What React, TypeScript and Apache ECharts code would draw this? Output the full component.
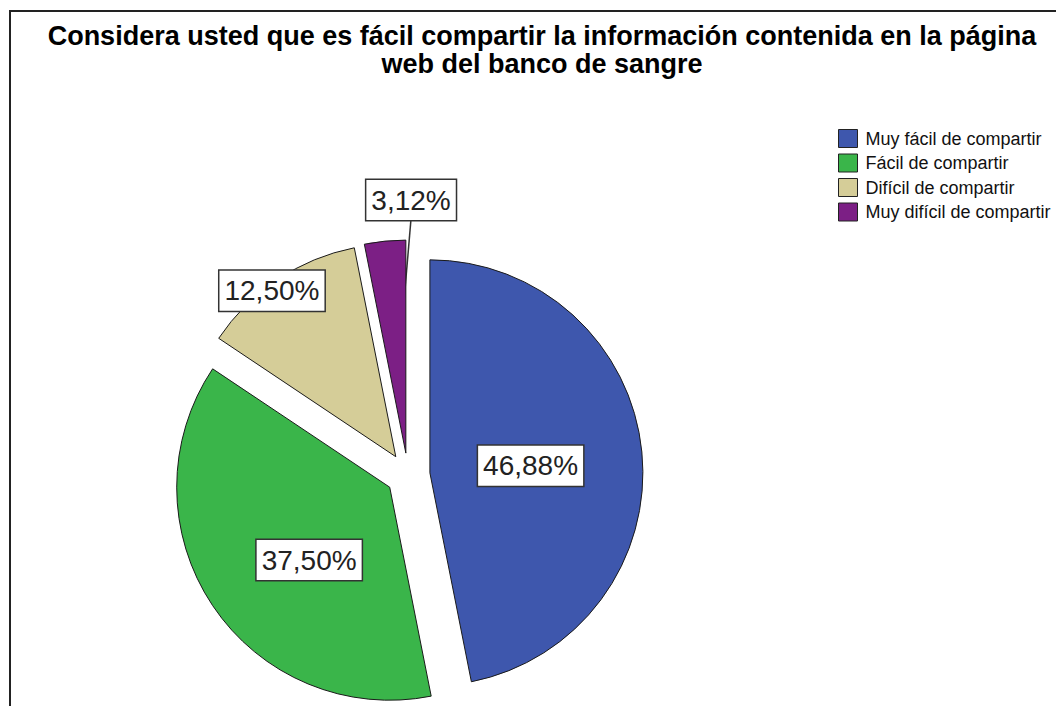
import React, { useEffect, useRef } from 'react';
import * as echarts from 'echarts';

const TITLE_LINES = [
  'Considera usted que es fácil compartir la información contenida en la página',
  'web del banco de sangre',
];
const categories = [
  'Muy fácil de compartir',
  'Fácil de compartir',
  'Difícil de compartir',
  'Muy difícil de compartir',
];
const percentages = [46.88, 37.5, 12.5, 3.12];
const colors = ['#3e57ad', '#3ab54a', '#d5cd98', '#7c1f85'];

// label placement (style): distance from slice apex as fraction of radius, angular shift in degrees
const labelFraction = [0.474, 0.51, 0.972, 1.188];
const labelShift = [1.6, -8.4, -3.0, 6.8];

const CX = 408;
const CY = 475;
const R = 213;
const OFFSET = 22;
const FONT = '"Liberation Sans", Arial, Helvetica, sans-serif';

export default function App() {
  const ref = useRef<HTMLDivElement>(null);

  useEffect(() => {
    if (!ref.current) return;
    const chart = echarts.init(ref.current, undefined, { renderer: 'svg' });
    const total = percentages.reduce((a, b) => a + b, 0);

    const geom = (i: number) => {
      let start = 0;
      for (let j = 0; j < i; j++) start += percentages[j];
      const mid = ((start + percentages[i] / 2) / total) * 360;
      const rad = (mid * Math.PI) / 180;
      const ax = CX + OFFSET * Math.sin(rad);
      const ay = CY - OFFSET * Math.cos(rad);
      return { mid, rad, ax, ay };
    };

    // one pie series per exploded slice: same angles, centre shifted along the slice's mid-angle
    const series = categories.map((_, k) => {
      const g = geom(k);
      return {
        type: 'pie',
        name: 'slice' + k,
        center: [g.ax, g.ay],
        radius: R,
        startAngle: 90,
        clockwise: true,
        avoidLabelOverlap: false,
        silent: true,
        emphasis: { disabled: true },
        label: {
          show: true,
          position: k === 3 ? 'outside' : 'inside',
          formatter: (p: any) => p.value.toFixed(2).replace('.', ',') + '%',
          fontFamily: FONT,
          fontSize: 28,
          lineHeight: 33,
          color: '#222222',
          backgroundColor: '#ffffff',
          borderColor: '#333333',
          borderWidth: 1.5,
          padding: [4, 5, 3, 5],
        },
        labelLine: {
          show: k === 3,
          showAbove: true,
          length: 20,
          length2: 0,
          lineStyle: { color: '#333333', width: 1.5 },
        },
        labelLayout: (p: any) => {
          const lr = ((g.mid + labelShift[k]) * Math.PI) / 180;
          const d = labelFraction[k] * R;
          const x = g.ax + d * Math.sin(lr);
          const y = g.ay - d * Math.cos(lr);
          const out: any = { x, y, align: 'center', verticalAlign: 'middle' };
          if (k === 3) {
            const li = 0.38 * R;
            out.labelLinePoints = [
              [g.ax + li * Math.sin(g.rad), g.ay - li * Math.cos(g.rad)],
              [x, y + 18],
              [x, y + 18],
            ];
          }
          return out;
        },
        data: categories.map((name, i) => {
          if (i === k) {
            return {
              name,
              value: percentages[i],
              itemStyle: { color: colors[i], borderColor: '#1a1a1a', borderWidth: 1 },
            };
          }
          return {
            name,
            value: percentages[i],
            itemStyle: { color: 'rgba(0,0,0,0)', borderWidth: 0 },
            label: { show: false },
            labelLine: { show: false },
          };
        }),
      };
    });

    const option: any = {
      animation: false,
      backgroundColor: '#ffffff',
      title: {
        text: TITLE_LINES.join('\n'),
        left: 537,
        top: 17,
        textAlign: 'center',
        textStyle: {
          fontFamily: FONT,
          fontWeight: 'bold',
          fontSize: 27,
          lineHeight: 28,
          color: '#000000',
        },
      },
      legend: {
        orient: 'vertical',
        left: 833,
        top: 124,
        itemWidth: 19,
        itemHeight: 18,
        itemGap: 5.5,
        icon: 'rect',
        selectedMode: false,
        data: categories.map((name, i) => ({
          name,
          itemStyle: { color: colors[i], borderColor: '#222222', borderWidth: 1 },
        })),
        textStyle: {
          fontFamily: FONT,
          fontSize: 18,
          lineHeight: 18,
          color: '#111111',
          padding: [0, 0, 0, 3],
        },
      },
      graphic: [
        {
          type: 'rect',
          shape: { x: 10, y: 11, width: 1200, height: 900 },
          style: { fill: 'none', stroke: '#222222', lineWidth: 2 },
          silent: true,
        },
      ],
      series,
    };

    chart.setOption(option);
    return () => chart.dispose();
  }, []);

  return (
    <div
      ref={ref}
      style={{ position: 'absolute', left: 0, top: 0, width: 1056, height: 706 }}
    />
  );
}
